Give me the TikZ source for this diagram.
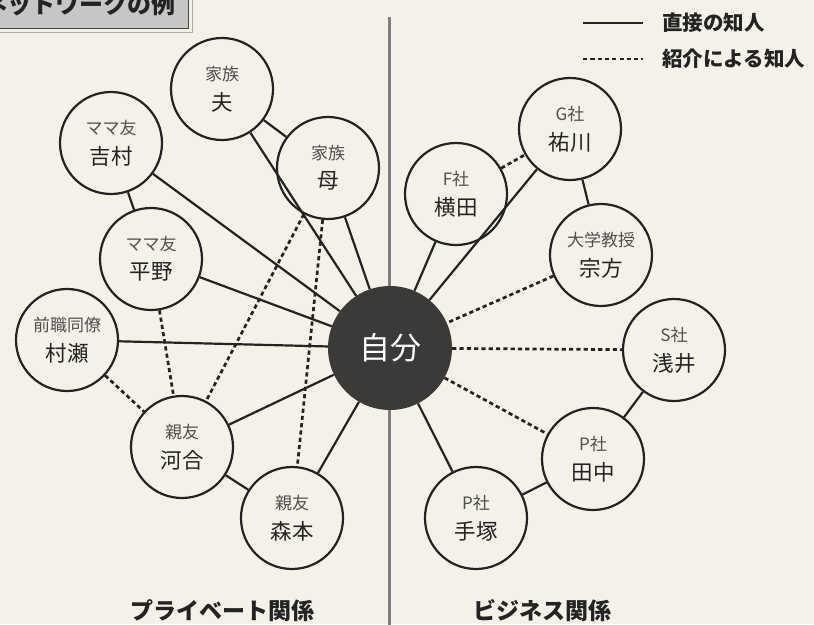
\documentclass[tikz,border=0pt]{standalone}
\usepackage{fontspec}
\setmainfont{Noto Sans CJK JP}
\definecolor{bg}{HTML}{F4F1E9}
\definecolor{ink}{HTML}{232323}
\definecolor{catgray}{HTML}{505050}
\definecolor{selfdark}{HTML}{3B3A38}
\definecolor{divider}{HTML}{7E7E7E}
\definecolor{titlefill}{HTML}{C6C6C4}
\newcommand{\personnode}[5]{%
  \node[person] (#1) at (#2,#3) {};
  \node[cattext] (#1-cat) at ([yshift=15pt]#1.center) {#4};
  \node[nametext] (#1-name) at ([yshift=-13pt]#1.center) {#5};
}
\begin{document}
\begin{tikzpicture}[x=1pt,y=-1pt,
  person/.style={circle,draw=ink,line width=2.2pt,fill=bg,minimum size=102pt,inner sep=0pt},
  cattext/.style={inner sep=0pt,text=catgray,font=\fontsize{17}{19}\selectfont},
  nametext/.style={inner sep=0pt,text=ink,font=\fontsize{21.5}{24}\selectfont},
  direct/.style={draw=ink,line width=2.2pt},
  intro/.style={draw=ink,line width=2.7pt,dash pattern=on 4.2pt off 3.1pt},
  legendtext/.style={inner sep=0pt,anchor=west,text=ink,font=\bfseries\fontsize{20.5}{22}\selectfont},
  sectiontext/.style={inner sep=0pt,text=ink,font=\bfseries\fontsize{23}{25}\selectfont},
]
\useasboundingbox (0,0) rectangle (814,624);
\clip (0,0) rectangle (814,624);
\fill[bg] (0,0) rectangle (814,624);

% title box
\fill[titlefill] (-5,-5) rectangle (188,28);
\draw[gray!55!black,line width=1pt] (-5,28) -- (188,28) -- (188,-5);
\draw[gray!65,line width=1pt] (-5,32) -- (192,32) -- (192,-5);
\node[inner sep=0pt,anchor=east,text=ink,font=\bfseries\fontsize{24}{26}\selectfont] (title) at (176,4) {ネットワークの例};

% legend
\coordinate (ls1) at (583,23);
\coordinate (ls2) at (643,23);
\coordinate (ld1) at (583,59);
\coordinate (ld2) at (643,59);
\draw[direct] (ls1) -- (ls2);
\draw[intro] (ld1) -- (ld2);
\node[legendtext] (leg1) at (662,23) {直接の知人};
\node[legendtext] (leg2) at (662,59) {紹介による知人};

% divider
\coordinate (divtop) at (389.5,17);
\coordinate (divbot) at (389.5,630);
\draw[divider,line width=3.5pt] (divtop) -- (divbot);

% center
\node[circle,fill=selfdark,minimum size=124pt,inner sep=0pt,text=white,font=\fontsize{31}{33}\selectfont] (jibun) at (390,348) {自分};

% people
\personnode{otto}{222}{89}{家族}{夫}
\personnode{haha}{328}{168}{家族}{母}
\personnode{yoshimura}{111}{143}{ママ友}{吉村}
\personnode{hirano}{151}{259}{ママ友}{平野}
\personnode{murase}{67}{340}{前職同僚}{村瀬}
\personnode{kawai}{182}{447}{親友}{河合}
\personnode{morimoto}{292}{518}{親友}{森本}
\personnode{sukekawa}{570}{129}{G社}{祐川}
\personnode{yokota}{456}{194}{F社}{横田}
\personnode{munakata}{601}{255}{大学教授}{宗方}
\personnode{asai}{674}{350}{S社}{浅井}
\personnode{tanaka}{593}{459}{P社}{田中}
\personnode{tezuka}{476}{518}{P社}{手塚}

% direct acquaintances
\draw[direct] (otto) -- (haha);
\draw[direct] (otto) -- (jibun);
\draw[direct] (yoshimura) -- (hirano);
\draw[direct] (yoshimura) -- (jibun);
\draw[direct] (haha) -- (jibun);
\draw[direct] (hirano) -- (jibun);
\draw[direct] (murase) -- (jibun);
\draw[direct] (kawai) -- (jibun);
\draw[direct] (kawai) -- (morimoto);
\draw[direct] (morimoto) -- (jibun);
\draw[direct] (yokota) -- (jibun);
\draw[direct] (sukekawa) -- (jibun);
\draw[direct] (sukekawa) -- (munakata);
\draw[direct] (asai) -- (tanaka);
\draw[direct] (tezuka) -- (jibun);
\draw[direct] (tezuka) -- (tanaka);

% introduced acquaintances
\draw[intro] (hirano) -- (kawai);
\draw[intro] (haha) -- (kawai);
\draw[intro] (haha) -- (morimoto);
\draw[intro] (murase) -- (kawai);
\draw[intro] (yokota) -- (sukekawa);
\draw[intro] (munakata) -- (jibun);
\draw[intro] (jibun) -- (asai);
\draw[intro] (jibun) -- (tanaka);

% section labels
\node[sectiontext] (private) at (222,611) {プライベート関係};
\node[sectiontext] (business) at (542,611) {ビジネス関係};
\end{tikzpicture}
\end{document}
